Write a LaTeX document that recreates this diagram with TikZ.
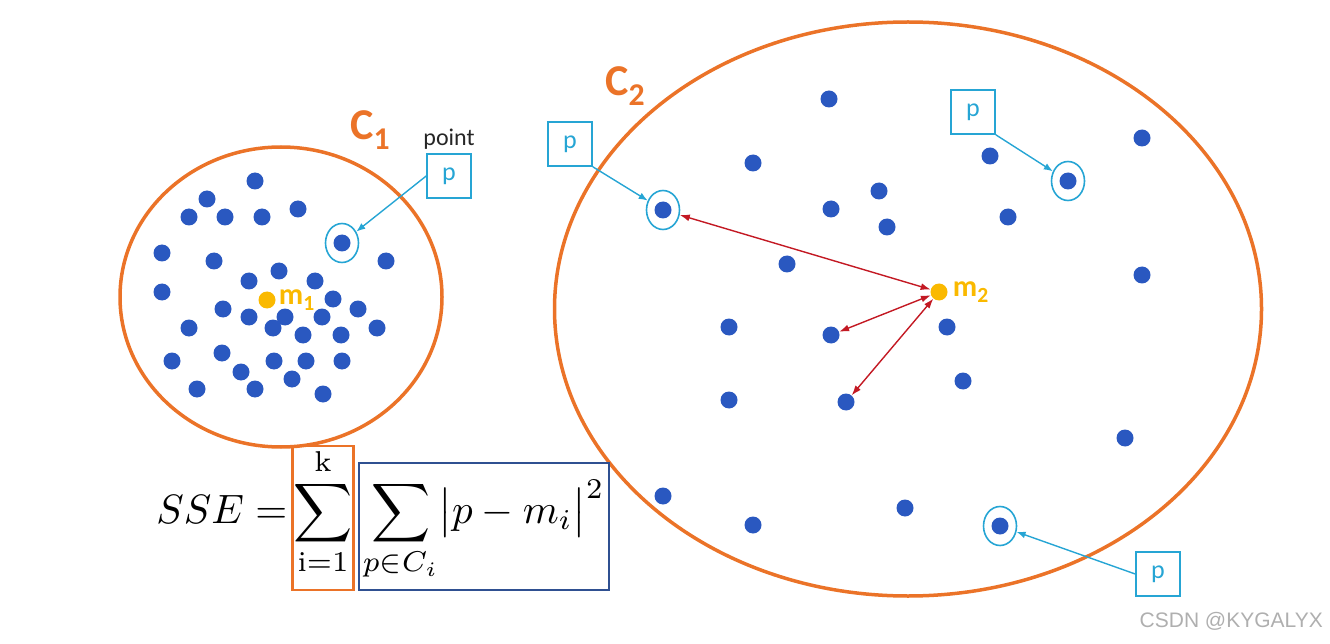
\documentclass[tikz,border=0pt]{standalone}
\usepackage{fontspec}
\newfontfamily\calfont{Carlito}
\newfontfamily\wmfont{Liberation Sans}
\usetikzlibrary{arrows.meta,positioning,shapes.geometric}
\definecolor{cOrange}{RGB}{235,115,40}
\definecolor{cBlue}{RGB}{42,88,192}
\definecolor{cGold}{RGB}{250,185,0}
\definecolor{cCyan}{RGB}{38,165,212}
\definecolor{cRed}{RGB}{195,25,35}
\definecolor{cNavy}{RGB}{47,80,145}
\definecolor{cMark}{RGB}{175,175,175}
\newcommand{\lsub}[1]{\raisebox{-0.45ex}{\scalebox{0.72}{#1}}}
\newcommand{\bigmath}[1]{\scalebox{4.1}{$\displaystyle #1$}}
\tikzset{
  clus/.style={ellipse, draw=cOrange, line width=3.5pt, inner sep=0pt},
  dot/.style={circle, fill=cBlue, inner sep=0pt, minimum size=17pt},
  ctr/.style={circle, fill=cGold, inner sep=0pt, minimum size=17pt},
  ring/.style={ellipse, draw=cCyan, line width=1.6pt, inner sep=0pt,
               minimum width=33pt, minimum height=39pt},
  pbox/.style={draw=cCyan, line width=1.6pt, minimum size=44pt, inner sep=0pt,
               text=cCyan, font=\calfont\fontsize{26}{26}\selectfont},
  clab/.style={text=cOrange, font=\calfont\bfseries\fontsize{44}{44}\selectfont, inner sep=0pt},
  mlab/.style={text=cGold, font=\calfont\bfseries\fontsize{30}{30}\selectfont, inner sep=0pt},
  par/.style={-{Latex[length=9pt,width=7pt]}, draw=cCyan, line width=1.4pt},
  dist/.style={{Latex[length=10pt,width=7pt]}-{Latex[length=10pt,width=7pt]},
               draw=cRed, line width=1.4pt},
  fbox/.style={line width=2.2pt, inner sep=0pt, text depth=67pt},
}

\begin{document}
\begin{tikzpicture}[x=1pt, y=-1pt]
\useasboundingbox (0,0) rectangle (1330,644);

\node[clus, minimum width=322pt, minimum height=300pt] (c1) at (281,297) {};
\node[clus, minimum width=707pt, minimum height=574pt] (c2) at (908,309) {};
\node[clab] (c1lab) at (370,130) {C\lsub{1}};
\node[clab] (c2lab) at (625,86) {C\lsub{2}};

\foreach \x/\y [count=\i] in {255/181, 207/199, 189/217, 225/217, 262/217, 298/209,
    162/253, 214/261, 386/261, 162/292, 249/281, 279/271, 315/281, 333/299,
    358/309, 377/328, 223/309, 249/317, 285/317, 273/328, 322/317, 303/335,
    341/335, 189/328, 172/361, 222/353, 241/372, 274/361, 306/361, 342/361,
    292/379, 197/389, 255/389, 323/394}
  \node[dot] (a\i) at (\x,\y) {};
\foreach \x/\y [count=\i] in {829/99, 753/163, 990/156, 1142/138, 879/191, 831/209,
    887/227, 1008/217, 787/264, 1142/275, 729/327, 947/327, 729/400, 963/381,
    1125/438, 663/496, 753/525, 905/508}
  \node[dot] (b\i) at (\x,\y) {};
\node[dot] (t1) at (831,335) {};
\node[dot] (t2) at (846,402) {};

\node[dot] (d1) at (342,243) {};
\node[dot] (d2) at (663,210) {};
\node[dot] (d3) at (1068,181) {};
\node[dot] (d4) at (1000,526) {};
\foreach \i in {1,...,4}
  \node[ring] (r\i) at (d\i) {};

\node[ctr] (m1) at (267,300) {};
\node[mlab, right=3pt of m1] (m1lab) {m\lsub{1}};
\node[ctr] (m2) at (939,292) {};
\node[mlab, right=5pt of m2] (m2lab) {m\lsub{2}};

\node[pbox] (pb1) at (449,176) {p};
\node[pbox] (pb2) at (570,144) {p};
\node[pbox] (pb3) at (973,112) {p};
\node[pbox] (pb4) at (1158,574) {p};
\node[font=\calfont\fontsize{24}{24}\selectfont, text=black!85, inner sep=0pt,
      above=4pt of pb1] (ptlab) {point};

\draw[par] (pb1.west) -- (r1);
\draw[par] (pb2.south east) -- (r2);
\draw[par] (pb3.south east) -- (r3);
\draw[par] (pb4.west) -- (r4);

\draw[dist] (m2) -- (r2);
\draw[dist] (m2) -- (t1);
\draw[dist] (m2) -- (t2);

\node[fbox, draw=cOrange, text height=77pt, minimum width=61pt, anchor=base]
  (osum) at (323,523) {\bigmath{\sum_{\mathrm{i=1}}^{\mathrm{k}}}};
\node[anchor=base east, inner sep=0pt] (sse) at ([xshift=-4pt]osum.base west) {\bigmath{SSE=}};
\node[fbox, draw=cNavy, text height=60pt, minimum width=250pt, anchor=base west]
  (isum) at ([xshift=3pt]osum.base east)
  {\bigmath{\sum_{p\in C_i}\bigl|p-m_i\bigr|^2}};

\node[text=cMark, font=\wmfont\fontsize{21}{21}\selectfont, anchor=east, inner sep=0pt]
  (mark) at (1323,621) {CSDN @KYGALYX};
\end{tikzpicture}
\end{document}
